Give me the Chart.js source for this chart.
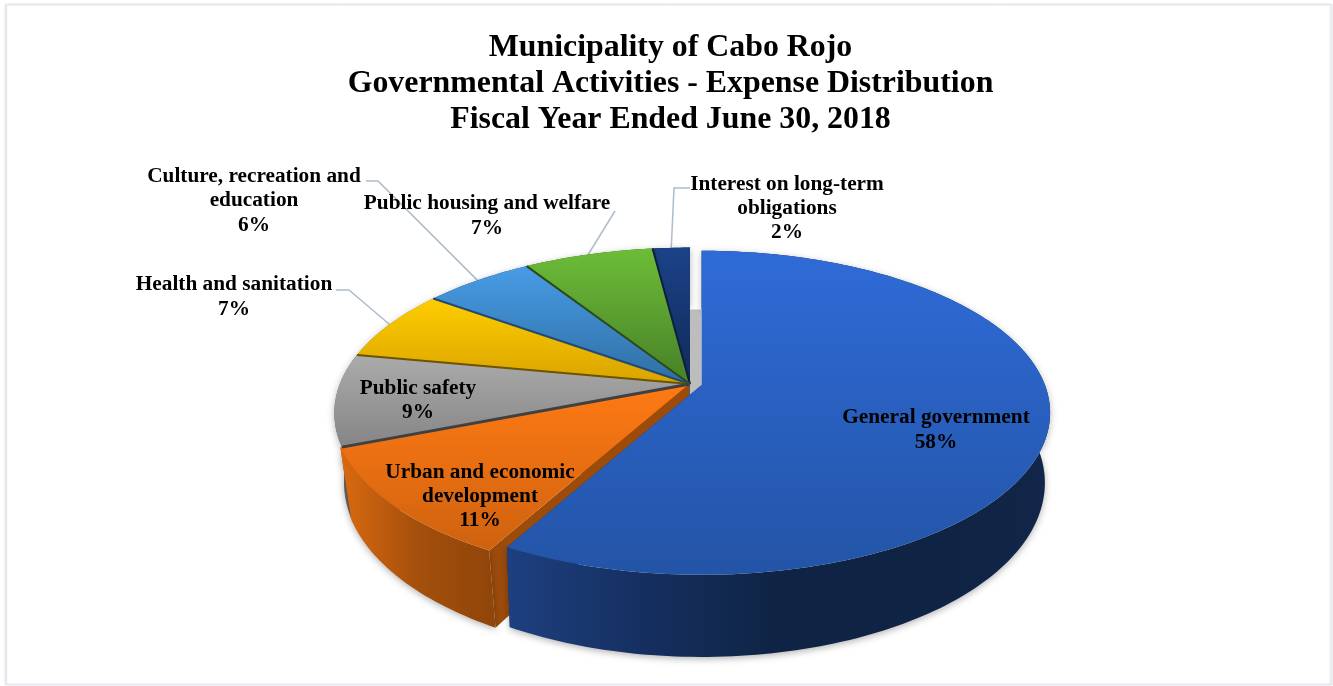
<!DOCTYPE html>
<html>
<head>
<meta charset="utf-8">
<title>Expense Distribution</title>
<script src="https://cdn.jsdelivr.net/npm/chart.js@4"></script>
<style>
  html, body { margin: 0; padding: 0; background: #ffffff; }
  canvas { display: block; }
</style>
</head>
<body>
<canvas id="expenseChart" width="1333" height="686"></canvas>
<script>
// Expense shares, clockwise from 12 o'clock
const categories = [
    "General government",
    "Urban and economic development",
    "Public safety",
    "Health and sanitation",
    "Culture, recreation and education",
    "Public housing and welfare",
    "Interest on long-term obligations"
];
const expenseShares = [58, 11, 9, 7, 6, 7, 2];
const titleLines = [
    "Municipality of Cabo Rojo",
    "Governmental Activities - Expense Distribution",
    "Fiscal Year Ended June 30, 2018"
];
const labelLines = [
    ["General government"],
    ["Urban and economic", "development"],
    ["Public safety"],
    ["Health and sanitation"],
    ["Culture, recreation and", "education"],
    ["Public housing and welfare"],
    ["Interest on long-term", "obligations"]
];

// top face: back colour, front colour
const topColors = [
    ["#2f6bd8", "#2354a6"],
    ["#ff7a14", "#cf620f"],
    ["#ababab", "#858585"],
    ["#ffcd00", "#d9a300"],
    ["#489ce6", "#2f6ea3"],
    ["#6dbd38", "#477f27"],
    ["#1b4288", "#102a58"]
];
// outer wall, left to right
const wallColors = [
    ["#1e4080", "#152f60", "#0f2444", "#0f2444", "#112648"],
    ["#d96a10", "#a44f0c", "#8f4509"],
    ["#6f6f6f", "#5c5c5c"],
    ["#a07800", "#806000"],
    ["#24557f", "#1c4466"],
    ["#38641e", "#2c5018"],
    ["#0e2448", "#0e2448"]
];
const edgeColors = ["#14305e", "#9c4b0b", "#404040", "#6b5300", "#1f4b73", "#2b4a18", "#0c1f3e"];
const cutColors = ["#14305e", "#9c4b0b", "#5c5c5c", "#806000", "#1c4466", "#2c5018", "#0e2448"];
const explode = [12, 2, 0, 0, 0, 0, 0];
const rimGrow = [0.995, 1.015, 1.015, 1.015, 1.015, 1.015, 1.015];
const wallTrim = [1, 0.985, 0.988, 1, 1, 1, 1];

// pie position on the page, and how strongly the front leans towards the viewer
const pieX = 690, pieY = 384, radiusX = 345, radiusY = 158, lean = 0.173;
const depth = 68, bottomNarrow = 0.985;

// where each label sits: centre x and the y of each text line
const labelPlace = [
    { x: 936, y: [417, 442] },
    { x: 480, y: [472, 496, 520] },
    { x: 418, y: [388, 412] },
    { x: 234, y: [284, 309] },
    { x: 254, y: [176, 200, 225] },
    { x: 487, y: [203, 228] },
    { x: 787, y: [184, 208, 232] }
];
// leader lines: start of the line and its elbow, the end comes from the slice itself
const leaders = [
    null, null, null,
    { from: [336, 290], elbow: [349, 290] },
    { from: [366, 181], elbow: [378, 181] },
    { from: [615, 211], elbow: [615, 211] },
    { from: [690, 188], elbow: [674, 188] }
];

// angle is clockwise from the top, r 0..1 from the centre, z 0 top face, 1 bottom face
function project(angle, r, z, cx, cy) {
    const u = Math.sin(angle) * r;
    const v = -Math.cos(angle) * r;
    const s = 1 / (1 - lean * v);
    const narrow = 1 - (1 - bottomNarrow) * z;
    return {
        x: cx + radiusX * u * s * narrow,
        y: cy + (radiusY * v + depth * z) * s
    };
}

function rimPoints(g, z, trim) {
    const steps = Math.max(2, Math.ceil((g.a1 - g.a0) / 0.02));
    const points = [];
    for (let i = 0; i <= steps; i++) {
        points.push(project(g.a0 + (g.a1 - g.a0) * i / steps, g.r * trim, z, g.cx, g.cy));
    }
    return points;
}

function tracePath(ctx, points) {
    ctx.beginPath();
    points.forEach((p, i) => i === 0 ? ctx.moveTo(p.x, p.y) : ctx.lineTo(p.x, p.y));
    ctx.closePath();
}

function sliceGeometry(arc, i) {
    const a0 = arc.startAngle + Math.PI / 2;
    const a1 = arc.endAngle + Math.PI / 2;
    const mid = (a0 + a1) / 2;
    return {
        a0: a0,
        a1: a1,
        mid: mid,
        r: rimGrow[i],
        cx: pieX + explode[i] * Math.sin(mid),
        cy: pieY - explode[i] * Math.cos(mid) * 0.3
    };
}

function drawWalls(ctx, g, i) {
    // the cut faces on both sides of the slice
    [g.a0, g.a1].forEach((a) => {
        tracePath(ctx, [
            project(a, 0, 0, g.cx, g.cy),
            project(a, g.r, 0, g.cx, g.cy),
            project(a, g.r * wallTrim[i], 1, g.cx, g.cy),
            project(a, 0, 1, g.cx, g.cy)
        ]);
        ctx.fillStyle = cutColors[i];
        ctx.fill();
    });

    // outer wall, with a soft shadow on the page underneath
    const top = rimPoints(g, 0, 1);
    const bottom = rimPoints(g, 1, wallTrim[i]).reverse();
    const xs = top.concat(bottom).map((p) => p.x);
    const grad = ctx.createLinearGradient(Math.min(...xs), 0, Math.max(...xs), 0);
    wallColors[i].forEach((c, k) => grad.addColorStop(k / (wallColors[i].length - 1), c));
    ctx.save();
    ctx.shadowColor = "rgba(0,0,0,0.3)";
    ctx.shadowBlur = 7;
    ctx.shadowOffsetY = 2;
    tracePath(ctx, top.concat(bottom));
    ctx.fillStyle = grad;
    ctx.fill();
    ctx.restore();
}

function drawTop(ctx, g, i) {
    const points = [project(0, 0, 0, g.cx, g.cy)].concat(rimPoints(g, 0, 1));
    const ys = points.map((p) => p.y);
    const grad = ctx.createLinearGradient(0, Math.min(...ys), 0, Math.max(...ys));
    grad.addColorStop(0, topColors[i][0]);
    grad.addColorStop(1, topColors[i][1]);
    tracePath(ctx, points);
    ctx.fillStyle = grad;
    ctx.fill();
}

function drawEdge(ctx, g, i) {
    const a = project(0, 0, 0, g.cx, g.cy);
    const b = project(g.a0, g.r, 0, g.cx, g.cy);
    ctx.beginPath();
    ctx.moveTo(a.x, a.y);
    ctx.lineTo(b.x, b.y);
    ctx.strokeStyle = edgeColors[i];
    ctx.lineWidth = i === 2 ? 3 : 2;
    ctx.stroke();
}

// the grey inner wall seen through the gap beside the big slice
function drawGapWall(ctx, back, front) {
    const b = project(0, back.r, 1, back.cx, back.cy);
    const f = project(0, front.r, 1, front.cx, front.cy);
    ctx.fillStyle = "#bdbdbd";
    tracePath(ctx, [
        { x: b.x, y: b.y + 4 },
        { x: f.x, y: b.y + 4 },
        { x: f.x, y: front.cy },
        { x: back.cx, y: back.cy + 12 }
    ]);
    ctx.fill();
}

const pie3d = {
    id: "pie3d",
    beforeDraw(chart) {
        // light frame around the page
        const ctx = chart.ctx;
        ctx.save();
        ctx.fillStyle = "#ffffff";
        ctx.fillRect(0, 0, chart.width, chart.height);
        ctx.shadowColor = "rgba(90,100,110,0.3)";
        ctx.shadowBlur = 2;
        ctx.shadowOffsetX = -1;
        ctx.strokeStyle = "#e2e6ec";
        ctx.lineWidth = 1;
        ctx.strokeRect(6.5, 4.5, 1325.5, 680);
        ctx.restore();
    },
    beforeDatasetsDraw(chart) {
        const ctx = chart.ctx;
        const arcs = chart.getDatasetMeta(0).data;
        const slices = arcs.map((arc, i) => sliceGeometry(arc, i));
        ctx.save();

        // leader lines stay behind the pie
        leaders.forEach((l, i) => {
            if (!l) return;
            const end = project(slices[i].mid, slices[i].r, 0, slices[i].cx, slices[i].cy);
            ctx.beginPath();
            ctx.moveTo(l.from[0], l.from[1]);
            ctx.lineTo(l.elbow[0], l.elbow[1]);
            ctx.lineTo(end.x, end.y);
            ctx.strokeStyle = "#afbccb";
            ctx.lineWidth = 1.5;
            ctx.stroke();
        });

        // back slices first, blue last since it sits in front of everything
        drawGapWall(ctx, slices[6], slices[0]);
        const order = [6, 5, 4, 3, 2, 1];
        order.forEach((i) => {
            drawWalls(ctx, slices[i], i);
            drawTop(ctx, slices[i], i);
        });
        [6, 5, 4, 3, 2].forEach((i) => drawEdge(ctx, slices[i], i));
        drawWalls(ctx, slices[0], 0);
        drawTop(ctx, slices[0], 0);

        // slice labels
        ctx.fillStyle = "#000000";
        ctx.font = "bold 21.3px 'Liberation Serif'";
        ctx.textAlign = "center";
        ctx.textBaseline = "middle";
        const total = expenseShares.reduce((a, b) => a + b, 0);
        labelLines.forEach((lines, i) => {
            const place = labelPlace[i];
            const text = lines.concat(Math.round(expenseShares[i] / total * 100) + "%");
            text.forEach((t, k) => ctx.fillText(t, place.x, place.y[k]));
        });
        ctx.restore();
        return false; // slices are done here, skip the flat arcs
    }
};

const ctx = document.getElementById("expenseChart").getContext("2d");
const expenseChart = new Chart(ctx, {
    type: "pie",
    data: {
        labels: categories,
        datasets: [{ data: expenseShares, borderWidth: 0 }]
    },
    options: {
        responsive: false,
        animation: false,
        layout: { padding: { left: 8 } },
        plugins: {
            legend: { display: false },
            tooltip: { enabled: false },
            title: {
                display: true,
                text: titleLines,
                color: "#000000",
                font: { family: "'Liberation Serif'", size: 31.85, weight: "bold", lineHeight: 1.13 },
                padding: { top: 30, bottom: 10 }
            }
        }
    },
    plugins: [pie3d]
});
</script>
</body>
</html>
